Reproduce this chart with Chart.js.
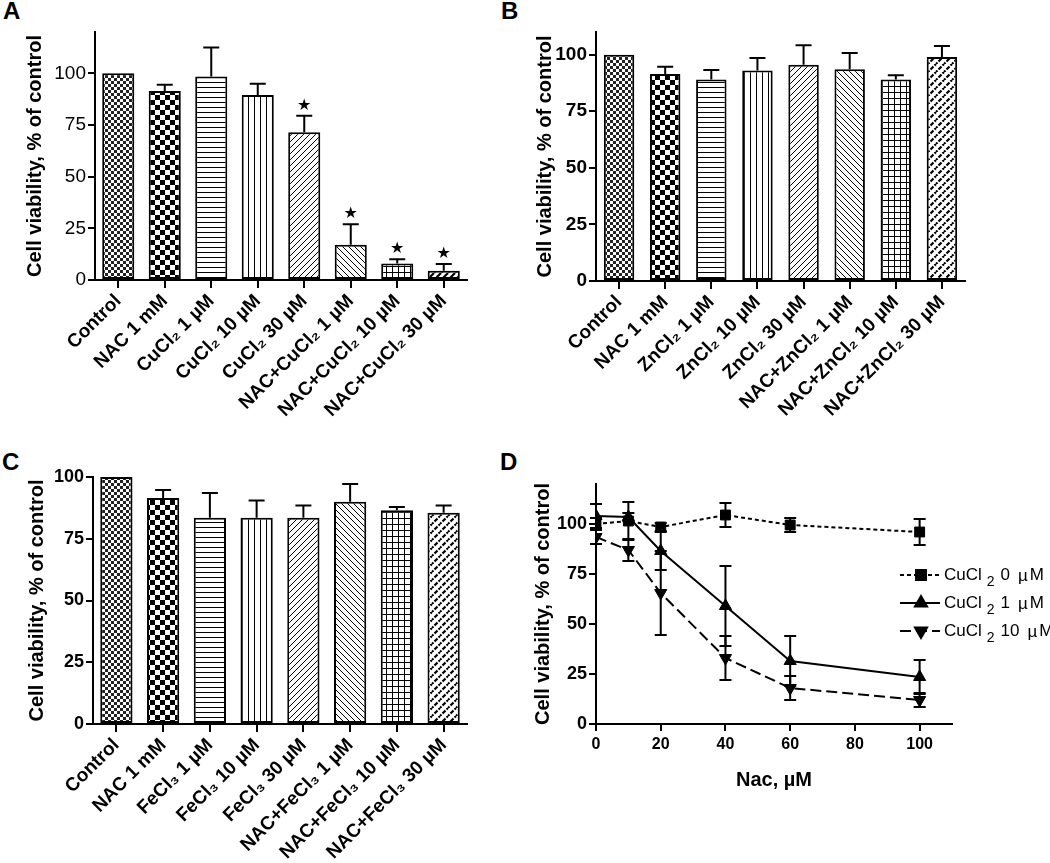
<!DOCTYPE html>
<html>
<head>
<meta charset="utf-8">
<script src="https://cdn.jsdelivr.net/npm/chart.js@4.4.0/dist/chart.umd.min.js"></script>
<style>
  body { margin: 0; background: #fff; width: 1050px; height: 863px; position: relative; overflow: hidden; font-family: 'Liberation Sans', Arial, sans-serif; }
  canvas { position: absolute; }
  .letter { position: absolute; font-weight: bold; font-size: 24px; line-height: 24px; color: #000; }
</style>
</head>
<body>
<div class="letter" style="left:3px;top:-1px">A</div>
<div class="letter" style="left:501px;top:-1px">B</div>
<div class="letter" style="left:2px;top:450px">C</div>
<div class="letter" style="left:500px;top:450px">D</div>
<canvas id="chartA" width="520" height="420" style="left:0;top:0"></canvas>
<canvas id="chartB" width="530" height="420" style="left:520px;top:0"></canvas>
<canvas id="chartC" width="520" height="443" style="left:0;top:420px"></canvas>
<canvas id="chartD" width="530" height="443" style="left:520px;top:420px"></canvas>
<script>
// Cell viability figure - four panels

const FONT = "'Liberation Sans', 'DejaVu Sans', Arial, sans-serif";
Chart.defaults.font.family = FONT;
Chart.defaults.color = '#000';
Chart.defaults.animation = false;

// Panel A - CuCl2
const labelsA = ['Control', 'NAC 1 mM', 'CuCl₂ 1 µM', 'CuCl₂ 10 µM', 'CuCl₂ 30 µM', 'NAC+CuCl₂ 1 µM', 'NAC+CuCl₂ 10 µM', 'NAC+CuCl₂ 30 µM'];
const valuesA = [100, 91.5, 98.5, 89.5, 71.5, 17, 8, 4.5];
const errorsA = [0, 3, 14, 5.5, 8, 10, 2, 3.2];
const starsA = ['', '', '', '', '★', '★', '★', '★'];

// Panel B - ZnCl2
const labelsB = ['Control', 'NAC 1 mM', 'ZnCl₂ 1 µM', 'ZnCl₂ 10 µM', 'ZnCl₂ 30 µM', 'NAC+ZnCl₂ 1 µM', 'NAC+ZnCl₂ 10 µM', 'NAC+ZnCl₂ 30 µM'];
const valuesB = [100, 91.5, 89, 93, 95.5, 93.5, 89, 99];
const errorsB = [0, 3.2, 4.2, 5.5, 8.6, 7.2, 1.9, 4.8];

// Panel C - FeCl3
const labelsC = ['Control', 'NAC 1 mM', 'FeCl₃ 1 µM', 'FeCl₃ 10 µM', 'FeCl₃ 30 µM', 'NAC+FeCl₃ 1 µM', 'NAC+FeCl₃ 10 µM', 'NAC+FeCl₃ 30 µM'];
const valuesC = [100, 91.5, 83.5, 83.5, 83.5, 90, 86.5, 85.5];
const errorsC = [0, 3.2, 10, 7, 5, 7.2, 1.4, 3];

const barTicks = [0, 25, 50, 75, 100];

// Panel D - NAC dose response
const nacDoses = [0, 10, 20, 40, 60, 100];
const cu0 = [100, 101.5, 98.5, 104.5, 99.5, 96];
const cu0Err = [3, 9.5, 2, 6, 3.5, 6.5];
const cu1 = [104, 103.5, 86.5, 59, 31.5, 23.5];
const cu1Err = [6, 2, 9.5, 20, 12.5, 8.5];
const cu10 = [93.5, 87, 65.5, 33, 18, 12];
const cu10Err = [3.5, 5.5, 21, 11, 6, 3.5];
const xTicksD = [0, 20, 40, 60, 80, 100];
const legendD = [['CuCl', '2', '0', 'µ', 'M'], ['CuCl', '2', '1', 'µ', 'M'], ['CuCl', '2', '10', 'µ', 'M']];

// Fill patterns for the bars
function makePattern(kind) {
    const sizes = { fineCheck: 6, check: 10, hlines: 5, vlines: 6, fwd: 6, back: 6, grid: 6, heavy: 7, weave: 8 };
    const s = sizes[kind];
    const c = document.createElement('canvas');
    c.width = s; c.height = s;
    const g = c.getContext('2d');
    g.fillStyle = '#fff';
    g.fillRect(0, 0, s, s);
    g.fillStyle = '#000';
    g.strokeStyle = '#000';
    switch (kind) {
        case 'fineCheck':
            g.fillStyle = '#222';
            g.fillRect(0, 0, 3, 3); g.fillRect(3, 3, 3, 3);
            break;
        case 'check':
            g.fillRect(0, 0, 5, 5); g.fillRect(5, 5, 5, 5);
            break;
        case 'hlines':
            g.fillRect(0, 2, s, 1);
            break;
        case 'vlines':
            g.fillRect(2, 0, 1, s);
            break;
        case 'grid':
            g.fillRect(0, 2, s, 1); g.fillRect(2, 0, 1, s);
            break;
        case 'fwd':
        case 'heavy':
        case 'weave':
            g.lineWidth = kind === 'fwd' ? 1 : 2.2;
            g.beginPath();
            [-s, 0, s].forEach(k => { g.moveTo(k, s); g.lineTo(k + s, 0); });
            g.stroke();
            if (kind === 'weave') {
                g.strokeStyle = '#fff';
                g.lineWidth = 1.4;
                g.beginPath();
                [-s, 0, s].forEach(k => { g.moveTo(k + s / 2, 0); g.lineTo(k + s * 1.5, s); });
                g.stroke();
            }
            break;
        case 'back':
            g.lineWidth = 1;
            g.beginPath();
            [-s, 0, s].forEach(k => { g.moveTo(k, 0); g.lineTo(k + s, s); });
            g.stroke();
            break;
    }
    return g.createPattern(c, 'repeat');
}

const fillsA = ['fineCheck', 'check', 'hlines', 'vlines', 'fwd', 'back', 'grid', 'heavy'].map(makePattern);
const fillsBC = ['fineCheck', 'check', 'hlines', 'vlines', 'fwd', 'back', 'grid', 'weave'].map(makePattern);

// Error bars (upper only) and significance stars
const barExtras = {
    id: 'barExtras',
    afterDatasetsDraw(chart) {
        const ctx = chart.ctx;
        const y = chart.scales.y;
        chart.data.datasets.forEach((ds, di) => {
            const meta = chart.getDatasetMeta(di);
            meta.data.forEach((bar, i) => {
                const err = ds.errors[i];
                const top = y.getPixelForValue(ds.data[i] + err);
                ctx.save();
                ctx.strokeStyle = '#000';
                ctx.lineWidth = 2;
                if (err > 0) {
                    ctx.beginPath();
                    ctx.moveTo(bar.x, bar.y);
                    ctx.lineTo(bar.x, top);
                    ctx.moveTo(bar.x - 8, top);
                    ctx.lineTo(bar.x + 8, top);
                    ctx.stroke();
                }
                if (ds.stars && ds.stars[i]) {
                    ctx.fillStyle = '#000';
                    ctx.font = '16px "DejaVu Sans"';
                    ctx.textAlign = 'center';
                    ctx.textBaseline = 'middle';
                    ctx.fillText(ds.stars[i], bar.x, top - 10);
                }
                ctx.restore();
            });
        });
    }
};

function barChart(id, labels, values, errors, stars, fills, yMax, box) {
    return new Chart(document.getElementById(id), {
        type: 'bar',
        data: {
            labels: labels,
            datasets: [{
                data: values,
                errors: errors,
                stars: stars,
                backgroundColor: fills,
                borderColor: '#000',
                borderWidth: 2,
                borderSkipped: false,
                barPercentage: box.barPct,
                categoryPercentage: 1
            }]
        },
        options: {
            responsive: false,
            layout: { padding: { top: box.padTop, right: box.padRight, left: 0, bottom: 0 } },
            plugins: { legend: { display: false }, tooltip: { enabled: false } },
            scales: {
                x: {
                    grid: { display: true, offset: false, drawOnChartArea: false, drawTicks: true, tickLength: 8, color: '#000', lineWidth: 2 },
                    border: { display: true, color: '#000', width: 2 },
                    ticks: { minRotation: 45, maxRotation: 45, autoSkip: false, padding: 2, font: { size: 19, weight: 'bold' } },
                    afterFit: s => { s.height = box.xHeight; }
                },
                y: {
                    min: 0,
                    max: yMax,
                    afterBuildTicks: s => { s.ticks = barTicks.map(v => ({ value: v })); },
                    grid: { display: true, drawOnChartArea: false, drawTicks: true, tickLength: 7, color: '#000', lineWidth: 2 },
                    border: { display: true, color: '#000', width: 2 },
                    ticks: { padding: 2, font: { size: box.yFont, weight: box.yWeight } },
                    title: { display: true, text: 'Cell viability, % of control', font: { size: 20, weight: 'bold' }, padding: { top: box.titlePad, bottom: 0 } },
                    afterFit: s => { s.width = box.yWidth; }
                }
            }
        },
        plugins: [barExtras]
    });
}

barChart('chartA', labelsA, valuesA, errorsA, starsA, fillsA, 120,
    { padTop: 32, padRight: 53, xHeight: 140, yWidth: 95, titlePad: 23, barPct: 0.69, yFont: 19, yWeight: 'normal' });
barChart('chartB', labelsB, valuesB, errorsB, null, fillsBC, 110,
    { padTop: 32, padRight: 85, xHeight: 139, yWidth: 76, titlePad: 13, barPct: 0.66, yFont: 19, yWeight: 'bold' });
barChart('chartC', labelsC, valuesC, errorsC, null, fillsBC, 100,
    { padTop: 57, padRight: 53, xHeight: 139, yWidth: 93, titlePad: 25, barPct: 0.69, yFont: 18, yWeight: 'bold' });

// Panel D: error bars in both directions plus a hand drawn legend
const lineExtras = {
    id: 'lineExtras',
    afterDatasetsDraw(chart) {
        const ctx = chart.ctx;
        const y = chart.scales.y;
        chart.data.datasets.forEach((ds, di) => {
            const meta = chart.getDatasetMeta(di);
            meta.data.forEach((pt, i) => {
                const v = ds.data[i].y;
                const e = ds.errors[i];
                const hi = y.getPixelForValue(v + e);
                const lo = y.getPixelForValue(v - e);
                ctx.save();
                ctx.strokeStyle = '#000';
                ctx.lineWidth = 2;
                ctx.beginPath();
                ctx.moveTo(pt.x, hi); ctx.lineTo(pt.x, lo);
                ctx.moveTo(pt.x - 6, hi); ctx.lineTo(pt.x + 6, hi);
                ctx.moveTo(pt.x - 6, lo); ctx.lineTo(pt.x + 6, lo);
                ctx.stroke();
                ctx.restore();
            });
        });
    },
    afterDraw(chart) {
        const ctx = chart.ctx;
        const rows = [155, 183, 211];
        chart.data.datasets.forEach((ds, di) => {
            const yy = rows[di];
            ctx.save();
            ctx.strokeStyle = '#000';
            ctx.fillStyle = '#000';
            ctx.lineWidth = 2;
            ctx.setLineDash(ds.borderDash || []);
            ctx.beginPath();
            ctx.moveTo(380, yy); ctx.lineTo(420, yy);
            ctx.stroke();
            ctx.setLineDash([]);
            Chart.helpers.drawPoint(ctx, { pointStyle: ds.pointStyle, radius: ds.pointRadius, rotation: ds.rotation || 0, borderWidth: 1 }, 401, yy);
            const parts = legendD[di];
            ctx.font = '17px ' + FONT;
            ctx.textBaseline = 'middle';
            ctx.textAlign = 'left';
            let x = 424;
            ctx.fillText(parts[0], x, yy);
            x += ctx.measureText(parts[0]).width + 5;
            ctx.font = '14px ' + FONT;
            ctx.fillText(parts[1], x, yy + 7);
            x += ctx.measureText(parts[1]).width + 6;
            ctx.font = '17px ' + FONT;
            ctx.fillText(parts[2], x, yy);
            x += ctx.measureText(parts[2]).width + 8;
            ctx.fillText(parts[3], x, yy + 1);
            x += ctx.measureText(parts[3]).width + 2;
            ctx.fillText(parts[4], x, yy);
            ctx.restore();
        });
    }
};

function series(vals, errs, dash, style, rot) {
    return {
        data: nacDoses.map((d, i) => ({ x: d, y: vals[i] })),
        errors: errs,
        borderColor: '#000',
        backgroundColor: '#000',
        borderWidth: 2,
        borderDash: dash,
        pointStyle: style,
        rotation: rot,
        pointRadius: 7,
        pointBorderWidth: 1,
        tension: 0,
        fill: false
    };
}

new Chart(document.getElementById('chartD'), {
    type: 'line',
    data: {
        datasets: [
            series(cu0, cu0Err, [4, 3], 'rect', 0),
            series(cu1, cu1Err, [], 'triangle', 0),
            series(cu10, cu10Err, [11, 5], 'triangle', 180)
        ]
    },
    options: {
        responsive: false,
        layout: { padding: { top: 64, right: 98, left: 0, bottom: 0 } },
        plugins: { legend: { display: false }, tooltip: { enabled: false } },
        scales: {
            x: {
                type: 'linear',
                min: 0,
                max: 110,
                afterBuildTicks: s => { s.ticks = xTicksD.map(v => ({ value: v })); },
                grid: { display: true, drawOnChartArea: false, drawTicks: true, tickLength: 7, color: '#000', lineWidth: 2 },
                border: { display: true, color: '#000', width: 2 },
                ticks: { padding: 4, font: { size: 16, weight: 'bold' } },
                title: { display: true, text: 'Nac, µM', font: { size: 20, weight: 'bold' }, padding: { top: 0, bottom: 71 } },
                afterFit: s => { s.height = 139; }
            },
            y: {
                min: 0,
                max: 120,
                afterBuildTicks: s => { s.ticks = barTicks.map(v => ({ value: v })); },
                grid: { display: true, drawOnChartArea: false, drawTicks: true, tickLength: 7, color: '#000', lineWidth: 2 },
                border: { display: true, color: '#000', width: 2 },
                ticks: { padding: 2, font: { size: 18, weight: 'bold' } },
                title: { display: true, text: 'Cell viability, % of control', font: { size: 20, weight: 'bold' }, padding: { top: 11, bottom: 0 } },
                afterFit: s => { s.width = 76; }
            }
        }
    },
    plugins: [lineExtras]
});
</script>
</body>
</html>
